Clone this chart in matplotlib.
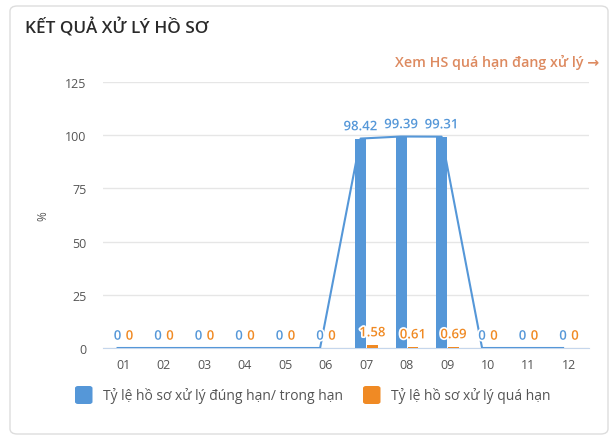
import matplotlib
matplotlib.use('Agg')
import matplotlib.pyplot as plt
import matplotlib.patches as patches
import matplotlib.patheffects as pe
import numpy as np

months = ['01', '02', '03', '04', '05', '06', '07', '08', '09', '10', '11', '12']
on_time = [0, 0, 0, 0, 0, 0, 98.42, 99.39, 99.31, 0, 0, 0]
overdue = [0, 0, 0, 0, 0, 0, 1.58, 0.61, 0.69, 0, 0, 0]
yticks = [0, 25, 50, 75, 100, 125]

blue = '#5597d8'
orange = '#f08a24'
grey = '#555555'

plt.rcParams['font.family'] = ['Open Sans', 'DejaVu Sans']

fig = plt.figure(figsize=(6.13, 4.39), dpi=100)
fig.patch.set_facecolor('white')

# card border
card = patches.FancyBboxPatch((10/613, 4/439), 598/613, 428/439,
                              boxstyle='round,pad=0,rounding_size=0.012',
                              transform=fig.transFigure, facecolor='white',
                              edgecolor='#dddddd', linewidth=1.0, zorder=-10)
fig.patches.append(card)

fig.text(25/613, 1-28/439, 'KẾT QUẢ XỬ LÝ HỒ SƠ', fontsize=12.3, fontweight='semibold',
         color='#2a2a2a', va='center', ha='left')
fig.text(599/613, 1-62/439, 'Xem HS quá hạn đang xử lý →', fontsize=10.3, fontweight='semibold',
         color='#dd8a60', va='center', ha='right')

ax = fig.add_axes([103/613, 1-349/439, 486/613, 266/439])
ax.set_facecolor('none')
x = np.arange(len(months))
w = 0.27
xb = x - 0.14
xo = x + 0.155
ax.bar(xb, on_time, width=w, color=blue, zorder=3)
ax.bar(xo, overdue, width=w, color=orange, zorder=3)
ax.plot(xb, on_time, color=blue, linewidth=1.5, zorder=4)

for xs, vals, col in [(xb, on_time, blue), (xo, overdue, orange)]:
    for xi, v in zip(xs, vals):
        t = ax.annotate(f'{v:g}', (xi, v), xytext=(0, 8.5), textcoords='offset points',
                        ha='center', va='center', fontsize=9.5, fontweight='semibold',
                        color=col, zorder=6)
        t.set_path_effects([pe.withStroke(linewidth=2.5, foreground='white')])

ax.set_xlim(-0.5, 11.5)
ax.set_ylim(0, 125)
ax.set_yticks(yticks)
ax.set_xticks(x)
ax.set_xticklabels(months)
ax.grid(axis='y', color='#e6e6e6', linewidth=1, zorder=0)
for s in ['top', 'right', 'left']:
    ax.spines[s].set_visible(False)
ax.spines['bottom'].set_color('#c5d6ec')
ax.tick_params(axis='both', length=0, colors=grey, labelsize=9)
ax.tick_params(axis='y', pad=12)
ax.tick_params(axis='x', pad=7)
ax.set_ylabel('%', color=grey, fontsize=8.5, labelpad=11)

# legend
for xl, col, lab in [(75, blue, 'Tỷ lệ hồ sơ xử lý đúng hạn/ trong hạn'),
                     (363, orange, 'Tỷ lệ hồ sơ xử lý quá hạn')]:
    sq = patches.FancyBboxPatch((xl/613, 1-405/439), 17.5/613, 18/439,
                                boxstyle='round,pad=0,rounding_size=0.005',
                                transform=fig.transFigure, facecolor=col, edgecolor='none')
    fig.patches.append(sq)
    fig.text((xl+28)/613, 1-396/439, lab, fontsize=10, color='#555555', va='center', ha='left')

fig.savefig('out.png', dpi=100, facecolor='white')
